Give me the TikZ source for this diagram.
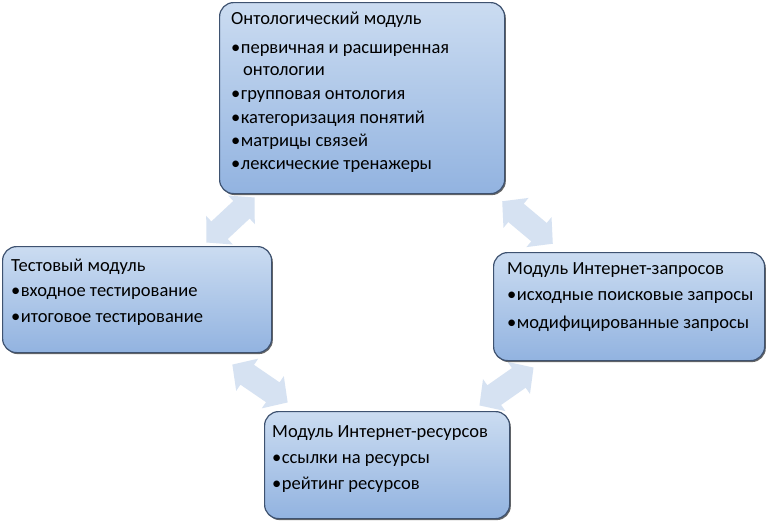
\documentclass[tikz,border=0pt]{standalone}
\usepackage{fontspec}
\setmainfont{Carlito}
\usetikzlibrary{shadows}
\definecolor{boxtop}{HTML}{CBDCF1}
\definecolor{boxbot}{HTML}{92B3E0}
\definecolor{boxline}{HTML}{3E5270}
\definecolor{arrowfill}{HTML}{D6E2F2}
\tikzset{
  modbox/.style={rectangle, rounded corners=14pt, draw=boxline, line width=1.2pt,
    top color=boxtop, bottom color=boxbot, anchor=north west, inner sep=0pt,
    drop shadow={shadow xshift=1.2pt, shadow yshift=-1.5pt, fill=black!75, opacity=.8}},
  txt/.style={anchor=west, inner sep=0pt, font=\fontsize{18.5}{21}\selectfont, text=black},
  linkarrow/.style={fill=arrowfill, draw=none}
}
\newcommand{\bul}{\textbullet\hspace{0.5pt}}
% \blockarrow{mx}{my}{angle}{length}
\newcommand{\blockarrow}[4]{%
  \begin{scope}[shift={(#1,#2)}, rotate=#3]
    \pgfmathsetmacro{\hl}{#4/2}
    \pgfmathsetmacro{\hb}{#4/2-18}
    \fill[linkarrow] (-\hl,0) -- (-\hb,19.5) -- (-\hb,12) -- (\hb,12) -- (\hb,19.5) -- (\hl,0)
      -- (\hb,-19.5) -- (\hb,-12) -- (-\hb,-12) -- (-\hb,-19.5) -- cycle;
  \end{scope}}
\begin{document}
\begin{tikzpicture}[x=1pt,y=-1pt]
\useasboundingbox[fill=white] (0,0) rectangle (766,520);
% connectors (block arrows)
\blockarrow{230.5}{220}{43}{66}
\blockarrow{527.5}{222.5}{-40}{66}
\blockarrow{260}{383.5}{-34.4}{67}
\blockarrow{506.5}{386.5}{35}{66}
% boxes
\node[modbox, minimum width=285pt, minimum height=191pt] (onto) at (219,2) {};
\node[modbox, minimum width=269pt, minimum height=106pt] (test) at (2,246) {};
\node[modbox, minimum width=271pt, minimum height=108pt] (query) at (493,252) {};
\node[modbox, minimum width=245pt, minimum height=107pt] (res) at (264,411) {};
% texts: ontology
\node[txt] (o0) at (231,20) {Онтологический модуль};
\node[txt] (o1) at (231,50) {\bul первичная и расширенная};
\node[txt] (o1b) at (243,71) {онтологии};
\node[txt] (o2) at (231,96) {\bul групповая онтология};
\node[txt] (o3) at (231,119) {\bul категоризация понятий};
\node[txt] (o4) at (231,142) {\bul матрицы связей};
\node[txt] (o5) at (231,166) {\bul лексические тренажеры};
% test
\node[txt] (t0) at (11,267) {Тестовый модуль};
\node[txt] (t1) at (11,294) {\bul входное тестирование};
\node[txt] (t2) at (11,319) {\bul итоговое тестирование};
% query
\node[txt] (q0) at (507,270) {Модуль Интернет-запросов};
\node[txt] (q1) at (507,298) {\bul исходные поисковые запросы};
\node[txt] (q2) at (507,324) {\bul модифицированные запросы};
% resources
\node[txt] (r0) at (272,433) {Модуль Интернет-ресурсов};
\node[txt] (r1) at (272,460) {\bul ссылки на ресурсы};
\node[txt] (r2) at (272,485) {\bul рейтинг ресурсов};
\end{tikzpicture}
\end{document}
